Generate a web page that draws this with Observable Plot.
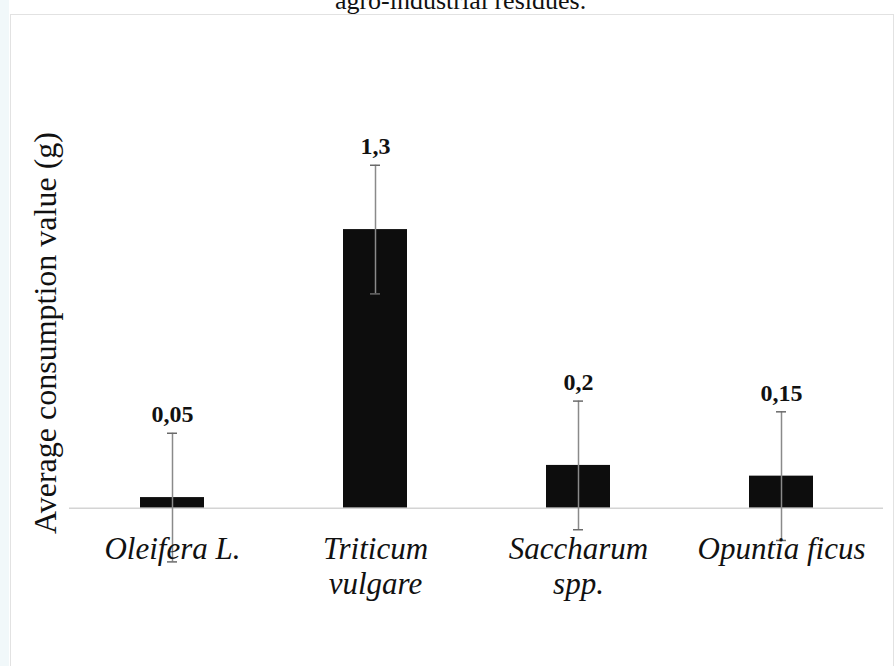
<!DOCTYPE html>
<html>
<head>
<meta charset="utf-8">
<script src="https://cdn.jsdelivr.net/npm/d3@7"></script>
<script src="https://cdn.jsdelivr.net/npm/@observablehq/plot@0.6"></script>
<style>
  html, body { margin: 0; padding: 0; background: white; }
  #wrap { position: relative; width: 895px; height: 666px; overflow: hidden; }
  #frame { position: absolute; left: 10px; top: 14px; width: 882px; height: 700px;
           border: 1.5px solid #e2e2e2; pointer-events: none; }
  #strip { position: absolute; left: 0; top: 0; width: 9px; height: 666px; background: #f1f8fa; }
</style>
</head>
<body>
<div id="wrap"><div id="strip"></div></div>
<script>
const categories = ["Oleifera L.", "Triticum vulgare", "Saccharum spp.", "Opuntia ficus"];
const tickLabels = ["Oleifera L.", "Triticum\nvulgare", "Saccharum\nspp.", "Opuntia ficus"];
const values = [0.05, 1.3, 0.2, 0.15];
const errors = [0.3, 0.3, 0.3, 0.3];
const valueLabels = ["0,05", "1,3", "0,2", "0,15"];
const yLabel = "Average consumption value (g)";
const title = "agro-industrial residues.";

const data = categories.map((c, i) => ({
  cat: c, tick: tickLabels[i], v: values[i],
  lo: values[i] - errors[i], hi: values[i] + errors[i], label: valueLabels[i]
}));

const serif = "'Liberation Serif', 'Times New Roman', serif";

const chart = Plot.plot({
  width: 895,
  height: 666,
  marginLeft: 69,
  marginRight: 12,
  marginTop: 79,
  marginBottom: 51,
  style: { background: "transparent", fontFamily: serif, overflow: "visible" },
  x: { domain: categories, paddingInner: 0.685, paddingOuter: 0.3425, axis: null },
  y: { domain: [-0.5, 2.0], axis: null },
  marks: [
    Plot.barY(data, { x: "cat", y: "v", fill: "#0d0d0d" }),
    Plot.ruleY([0], { stroke: "#d4d4d4", strokeWidth: 1.5 }),
    Plot.ruleX(data, { x: "cat", y1: "lo", y2: "hi", stroke: "#8a8a8a", strokeWidth: 1.5 }),
    Plot.tickY(data, { x: "cat", y: "hi", stroke: "#6a6a6a", strokeWidth: 1.5, insetLeft: 27, insetRight: 27 }),
    Plot.tickY(data, { x: "cat", y: "lo", stroke: "#6a6a6a", strokeWidth: 1.5, insetLeft: 27, insetRight: 27 }),
    Plot.text(data, { x: "cat", y: "hi", text: "label", dy: -19, lineAnchor: "middle",
      fontSize: 24, fontWeight: "bold", fill: "#111", fontFamily: serif }),
    Plot.text(data, { x: "cat", y: () => 0, text: "tick", lineAnchor: "top", dy: 25,
      lineHeight: 1.15, fontSize: 31, fontStyle: "italic", fill: "#111", fontFamily: serif }),
    Plot.text([yLabel], { frameAnchor: "left", textAnchor: "middle", rotate: -90, dx: -24, dy: -14.5,
      fontSize: 32, fill: "#111", fontFamily: serif, lineAnchor: "middle" }),
    Plot.text([title], { frameAnchor: "top", dx: -16, dy: -79.3, lineAnchor: "middle",
      fontSize: 26, fill: "#111", fontFamily: serif })
  ]
});

const wrap = document.getElementById("wrap");
wrap.appendChild(chart);
const fr = document.createElement("div");
fr.id = "frame";
wrap.appendChild(fr);
</script>
</body>
</html>
